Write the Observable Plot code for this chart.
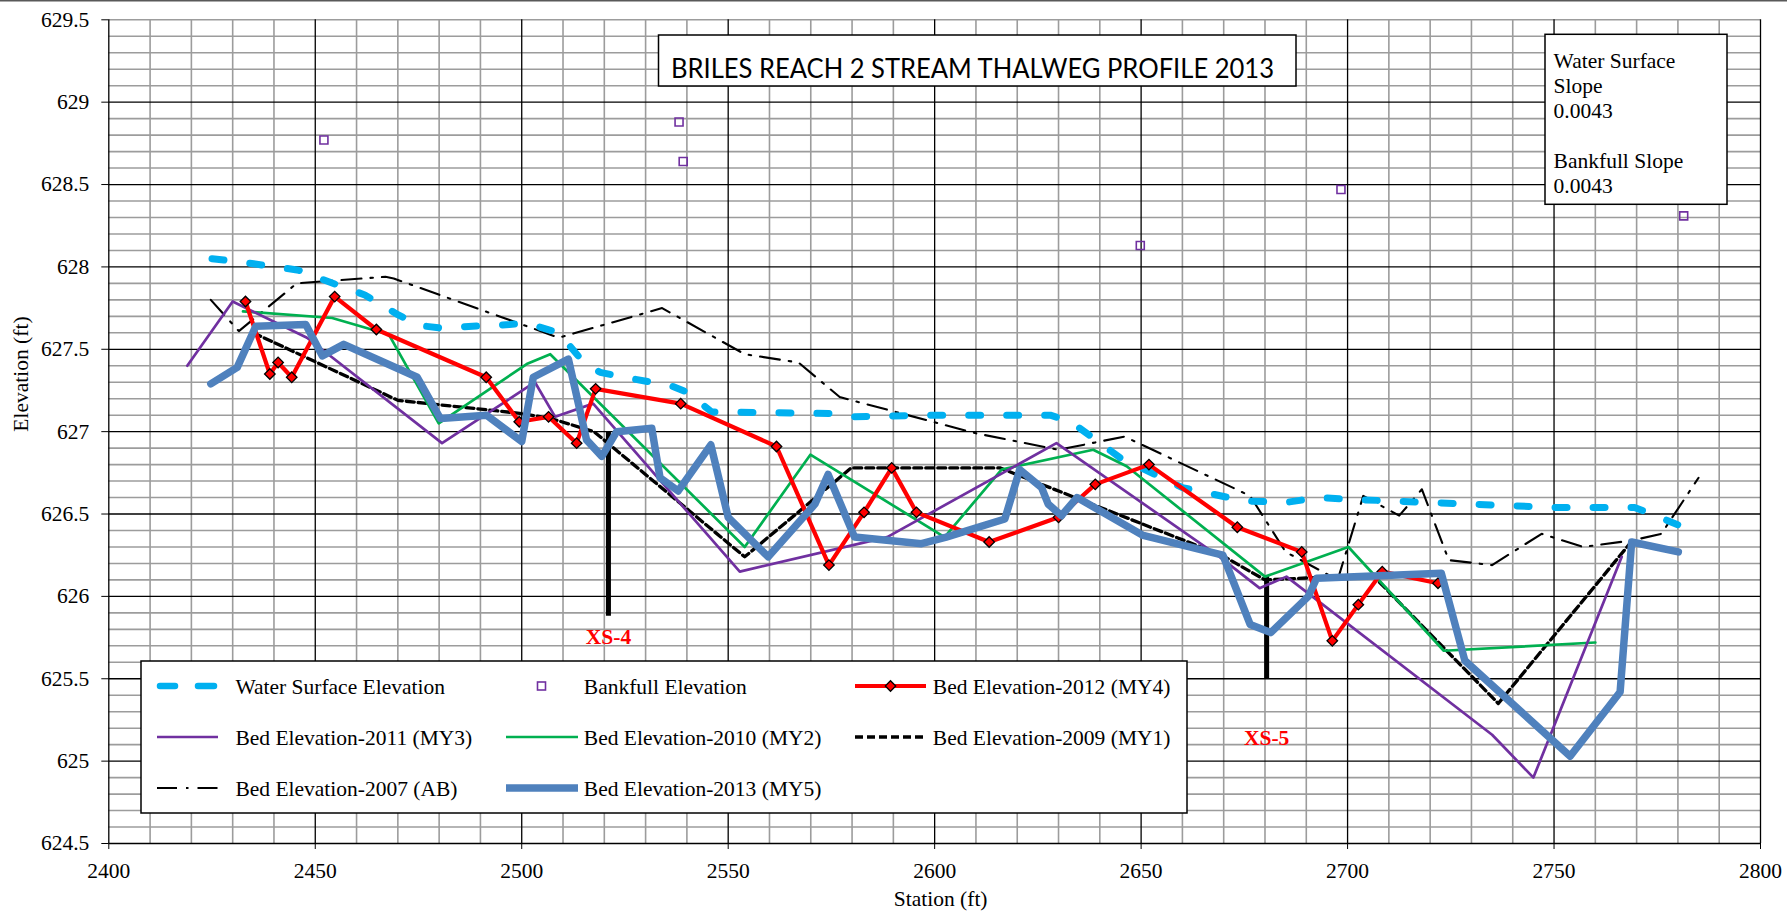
<!DOCTYPE html>
<html>
<head>
<meta charset="utf-8">
<script src="https://cdn.jsdelivr.net/npm/d3@7"></script>
<script src="https://cdn.jsdelivr.net/npm/@observablehq/plot@0.6"></script>
<style>
  html, body { margin: 0; padding: 0; background: #fff; }
  #chart { position: relative; width: 1787px; height: 923px; }
</style>
</head>
<body>
<div id="chart"></div>
<script>
// ---------- tick labels ----------
const stationTicks = [2400, 2450, 2500, 2550, 2600, 2650, 2700, 2750, 2800];
const elevTicks = [624.5, 625, 625.5, 626, 626.5, 627, 627.5, 628, 628.5, 629, 629.5];

// ---------- series: [station (ft), elevation (ft)] ----------
const waterSurface = [
  [2425, 628.05], [2432, 628.03], [2446, 627.98], [2450, 627.94], [2462, 627.83],
  [2470, 627.71], [2475, 627.645], [2480, 627.63], [2497, 627.65], [2501, 627.66],
  [2509, 627.60], [2515, 627.42], [2519, 627.36], [2527, 627.32], [2536, 627.28],
  [2540, 627.24], [2546, 627.12], [2575, 627.11], [2580, 627.09], [2600, 627.10],
  [2628, 627.10], [2633, 627.06], [2645, 626.84], [2650, 626.78], [2660, 626.66],
  [2675, 626.58], [2685, 626.57], [2693, 626.60], [2700, 626.59], [2720, 626.57],
  [2750, 626.54], [2769.5, 626.54], [2780.5, 626.43]
];
const bankfull = [
  [2452.1, 628.77], [2538.1, 628.88], [2539.1, 628.64], [2649.8, 628.13], [2698.4, 628.47], [2781.4, 628.31]
];
const bed2012 = [
  [2433.1, 627.79], [2439.0, 627.35], [2441.0, 627.42], [2444.3, 627.33], [2454.7, 627.82],
  [2464.8, 627.62], [2491.4, 627.33], [2499.4, 627.06], [2506.5, 627.09], [2513.3, 626.93],
  [2517.9, 627.26], [2538.5, 627.17], [2561.7, 626.91], [2574.4, 626.19], [2582.9, 626.51],
  [2589.6, 626.78], [2595.6, 626.51], [2613.2, 626.33], [2630.0, 626.48], [2638.9, 626.68],
  [2651.9, 626.80], [2673.3, 626.42], [2688.9, 626.27], [2696.3, 625.73], [2702.6, 625.95],
  [2708.4, 626.15], [2721.9, 626.08]
];
const bed2011 = [
  [2419, 627.40], [2430, 627.79], [2448, 627.57], [2480.7, 626.93], [2503.2, 627.30],
  [2508.1, 627.09], [2517.3, 627.17], [2552.8, 626.15], [2588.5, 626.36], [2629.5, 626.93],
  [2669, 626.24], [2678.7, 626.05], [2685.2, 626.12], [2735, 625.16], [2745, 624.90],
  [2766.4, 626.24]
];
const bed2010 = [
  [2432.5, 627.73], [2454.1, 627.69], [2467.8, 627.59], [2479.9, 627.05], [2501.2, 627.41],
  [2506.9, 627.47], [2554, 626.30], [2569.9, 626.86], [2602.4, 626.36], [2616.2, 626.77],
  [2638.4, 626.89], [2646.5, 626.79], [2680, 626.12], [2700.2, 626.30], [2723.3, 625.67],
  [2760, 625.72]
];
const bed2009 = [
  [2435, 627.60], [2470, 627.19], [2500, 627.11], [2507, 627.08], [2517.5, 627.00],
  [2554, 626.24], [2579.8, 626.78], [2615.8, 626.78], [2669.5, 626.25], [2680, 626.10],
  [2706, 626.13], [2736.5, 625.35], [2769, 626.34]
];
const bed2007 = [
  [2424.7, 627.80], [2431.5, 627.61], [2445.5, 627.90], [2467, 627.94], [2469, 627.93],
  [2509, 627.57], [2534, 627.75], [2554, 627.47], [2567, 627.42], [2577, 627.21],
  [2610, 626.99], [2630, 626.89], [2646, 626.97], [2676.4, 626.61], [2685, 626.27],
  [2697.6, 626.10], [2703.8, 626.61], [2712.5, 626.49], [2718, 626.65], [2724.5, 626.22],
  [2735, 626.19], [2747, 626.38], [2757, 626.30], [2769, 626.34], [2776, 626.38], [2785, 626.72]
];
const bed2013 = [
  [2424.7, 627.29], [2431.1, 627.39], [2435.6, 627.64], [2447.7, 627.65], [2451.7, 627.46],
  [2456.9, 627.53], [2474.7, 627.33], [2480.3, 627.08], [2491.5, 627.10], [2500, 626.94],
  [2502.8, 627.33], [2511.3, 627.44], [2515.7, 626.95], [2519.4, 626.85], [2523, 627.00],
  [2531.5, 627.02], [2533.5, 626.72], [2537.9, 626.64], [2545.8, 626.92], [2550, 626.48],
  [2559.7, 626.24], [2571, 626.56], [2574.2, 626.74], [2580.6, 626.36], [2596.8, 626.32],
  [2602.8, 626.36], [2617, 626.47], [2620.6, 626.77], [2625.9, 626.66], [2627.5, 626.56],
  [2630.7, 626.49], [2634.5, 626.60], [2650.5, 626.37], [2669.8, 626.25], [2676.4, 625.83],
  [2681.4, 625.78], [2690.5, 626.00], [2692.5, 626.11], [2722.7, 626.14], [2728.4, 625.61],
  [2753.9, 625.03], [2766, 625.42], [2768.8, 626.33], [2780.1, 626.27]
];

// cross-section markers
const xsNames = ["XS-4", "XS-5"];
const xsStations = [2521, 2680.4];
const xsTop = [627.0, 626.12];
const xsBottom = [625.88, 625.5];
const xsLabelElev = [625.75, 625.14];

// text
const chartTitle = "BRILES REACH 2 STREAM THALWEG PROFILE 2013";
const slopeLines = ["Water Surface", "Slope", "0.0043", "", "Bankfull Slope", "0.0043"];
const legendLabels = [
  "Water Surface Elevation", "Bankfull Elevation", "Bed Elevation-2012 (MY4)",
  "Bed Elevation-2011 (MY3)", "Bed Elevation-2010 (MY2)", "Bed Elevation-2009 (MY1)",
  "Bed Elevation-2007 (AB)", "Bed Elevation-2013 (MY5)"
];

// ---------- styles ----------
const C = {
  water: "#00B0F0", bank: "#7030A0", red: "#FF0000", purple: "#7030A0",
  green: "#00B050", black: "#000000", blue: "#4F81BD", grid: "#9c9c9c"
};
const S = {
  water: {stroke: C.water, strokeWidth: 7, strokeDasharray: "12,26", strokeLinecap: "round"},
  red: {stroke: C.red, strokeWidth: 4.2},
  purple: {stroke: C.purple, strokeWidth: 2.7},
  green: {stroke: C.green, strokeWidth: 2.7},
  dash: {stroke: C.black, strokeWidth: 3.3, strokeDasharray: "8,4"},
  dashdot: {stroke: C.black, strokeWidth: 2.1, strokeDasharray: "20,9,2.5,9"},
  blue: {stroke: C.blue, strokeWidth: 7.5}
};

const minorX = d3.range(2400, 2801, 10).filter(v => v % 50 !== 0);
const minorY = d3.range(0, 51).map(i => +(624.5 + i * 0.1).toFixed(1)).filter(v => Math.round(v * 10) % 5 !== 0);
const majorX = stationTicks;
const majorY = elevTicks.filter(v => v !== 629.5);

const xsData = xsNames.map((n, i) => ({name: n, station: xsStations[i], top: xsTop[i], bottom: xsBottom[i], label: xsLabelElev[i]}));

const px = d => d[0], py = d => d[1];
const lineOpts = s => Object.assign({x: px, y: py, strokeLinejoin: "round"}, s);

const W = 1787, H = 923;
const chart = Plot.plot({
  width: W, height: H,
  marginLeft: 108.3, marginRight: 27, marginTop: 19.3, marginBottom: 80,
  style: {fontFamily: "'Liberation Serif', 'Times New Roman', serif", fontSize: "21.5px", color: "black", background: "white"},
  x: {domain: [2400, 2800], ticks: stationTicks, tickFormat: d => String(d), tickSize: 6, tickPadding: 13, label: null},
  y: {domain: [624.5, 629.5], ticks: elevTicks, tickFormat: d => String(d), tickSize: 7, tickPadding: 12.5, label: null},
  marks: [
    Plot.ruleX(minorX, {stroke: C.grid, strokeWidth: 1.6}),
    Plot.ruleY(minorY, {stroke: C.grid, strokeWidth: 1.6}),
    Plot.ruleY([629.5], {stroke: C.grid, strokeWidth: 1.6}),
    Plot.ruleX(majorX, {stroke: "black", strokeWidth: 1.3}),
    Plot.ruleY(majorY, {stroke: "black", strokeWidth: 1.3}),
    Plot.ruleX(xsData, {x: "station", y1: "top", y2: "bottom", stroke: "black", strokeWidth: 5}),
    Plot.line(bed2007, lineOpts(S.dashdot)),
    Plot.line(waterSurface, lineOpts(S.water)),
    Plot.dot(bankfull, {x: px, y: py, symbol: "square", r: 4.5, fill: "none", stroke: C.bank, strokeWidth: 1.6}),
    Plot.line(bed2009, lineOpts(S.dash)),
    Plot.line(bed2010, lineOpts(S.green)),
    Plot.line(bed2011, lineOpts(S.purple)),
    Plot.line(bed2012, lineOpts(S.red)),
    Plot.dot(bed2012, {x: px, y: py, symbol: "square", rotate: 45, r: 4.2, fill: C.red, stroke: "black", strokeWidth: 1.3}),
    Plot.line(bed2013, lineOpts(S.blue)),
    Plot.text(xsData, {x: "station", y: "label", text: "name", fill: "#FF0000", fontWeight: "bold", fontSize: 21.5, fontFamily: "'Liberation Serif', serif"}),
    Plot.text(["Elevation (ft)"], {frameAnchor: "left", dx: -88, rotate: -90, text: d => d, fontSize: 21.5, fill: "black"}),
    Plot.text(["Station (ft)"], {frameAnchor: "bottom", dx: 6, dy: 62, text: d => d, fontSize: 21.5, fill: "black"})
  ]
});
document.getElementById("chart").appendChild(chart);

const svg = d3.select(chart);

// white boxes behind cross-section labels
svg.selectAll("text").filter(function() { return /^XS-/.test(this.textContent); }).each(function() {
  const b = this.getBBox();
  const tall = this.textContent === "XS-5";
  const padX = 7, padY = tall ? 11 : 2;
  d3.select(this.parentNode).insert("rect", () => this)
    .attr("x", b.x - padX - 3).attr("y", b.y - padY).attr("width", b.width + 2 * padX + 2).attr("height", b.height + 2 * padY)
    .attr("fill", "white").attr("stroke", "none");
});

const ov = svg.append("g").attr("text-anchor", "start");
// outer top border
ov.append("line").attr("x1", 0).attr("x2", W).attr("y1", 0.75).attr("y2", 0.75).attr("stroke", "#595959").attr("stroke-width", 1.5);

// title box
ov.append("rect").attr("x", 658.5).attr("y", 35).attr("width", 637.5).attr("height", 51)
  .attr("fill", "white").attr("stroke", "black").attr("stroke-width", 1.5);
ov.append("text").attr("x", 671).attr("y", 78.3).attr("text-anchor", "start").attr("font-family", "Lato, 'Open Sans', sans-serif").attr("font-size", 26)
  .attr("textLength", 603).attr("lengthAdjust", "spacingAndGlyphs").attr("fill", "black").text(chartTitle);

// slope box
ov.append("rect").attr("x", 1545).attr("y", 34.3).attr("width", 182).attr("height", 170)
  .attr("fill", "white").attr("stroke", "black").attr("stroke-width", 1.5);
slopeLines.forEach((t, i) => {
  if (t) ov.append("text").attr("x", 1553.6).attr("y", 68.3 + i * 25).attr("text-anchor", "start").attr("font-size", 21.5).attr("fill", "black").text(t);
});

// legend
const lg = ov.append("g");
lg.append("rect").attr("x", 141).attr("y", 661).attr("width", 1046).attr("height", 152)
  .attr("fill", "white").attr("stroke", "black").attr("stroke-width", 1.5);
const rows = [686, 737, 788];
const cols = [{s0: 157, s1: 218, t: 235.4}, {s0: 506, s1: 578, t: 583.8}, {s0: 855, s1: 926, t: 932.8}];
const entries = [
  {style: "water", col: 0, row: 0}, {style: "bank", col: 1, row: 0}, {style: "red", col: 2, row: 0},
  {style: "purple", col: 0, row: 1}, {style: "green", col: 1, row: 1}, {style: "dash", col: 2, row: 1},
  {style: "dashdot", col: 0, row: 2}, {style: "blue", col: 1, row: 2}
];
const kebab = k => k.replace(/[A-Z]/g, m => "-" + m.toLowerCase());
entries.forEach((e, i) => {
  const c = cols[e.col], y = rows[e.row];
  if (e.style === "water") {
    [[160, 175], [198, 214]].forEach(([a, b]) => lg.append("line").attr("x1", a).attr("x2", b).attr("y1", y).attr("y2", y)
      .attr("stroke", C.water).attr("stroke-width", 6.5).attr("stroke-linecap", "round"));
  } else if (e.style === "bank") {
    lg.append("rect").attr("x", 541.5 - 4).attr("y", y - 4).attr("width", 8).attr("height", 8)
      .attr("fill", "none").attr("stroke", C.bank).attr("stroke-width", 1.6);
  } else {
    const ln = lg.append("line").attr("x1", c.s0).attr("x2", c.s1).attr("y1", y).attr("y2", y);
    Object.entries(S[e.style]).forEach(([k, v]) => ln.attr(kebab(k), v));
    if (e.style === "red") {
      const cx = (c.s0 + c.s1) / 2;
      lg.append("rect").attr("x", cx - 3.7).attr("y", y - 3.7).attr("width", 7.4).attr("height", 7.4)
        .attr("transform", `rotate(45 ${cx} ${y})`).attr("fill", C.red).attr("stroke", "black").attr("stroke-width", 1.3);
    }
  }
  lg.append("text").attr("x", c.t).attr("y", y).attr("dy", "0.35em").attr("text-anchor", "start").attr("font-size", 21.5).attr("fill", "black").text(legendLabels[i]);
});
</script>
</body>
</html>
